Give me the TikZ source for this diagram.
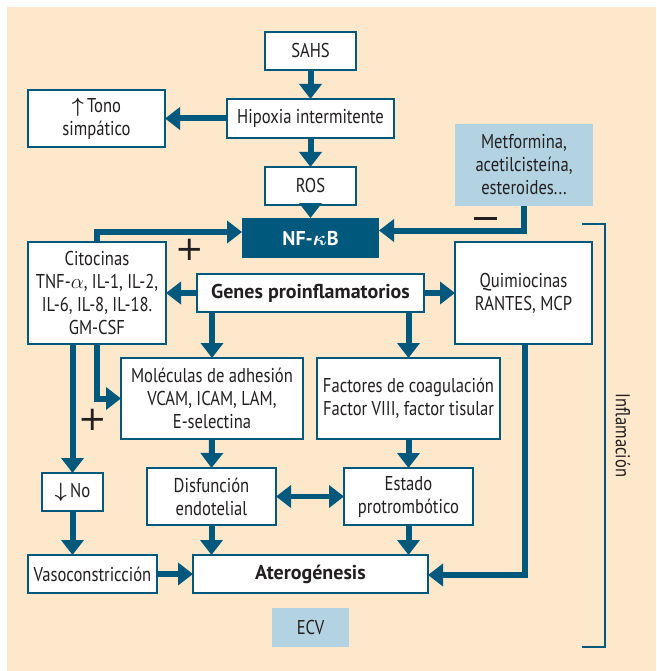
\documentclass[tikz,border=0pt]{standalone}
\usepackage{amsmath}
\usepackage{fontspec}
\setmainfont{PT Sans}[FakeStretch=0.83]
\newfontfamily\widebold{PT Sans}[FakeStretch=1.0]
\newfontfamily\symf{DejaVu Sans}
\usetikzlibrary{arrows.meta,calc}
\definecolor{teal}{HTML}{00587C}
\definecolor{beige}{HTML}{FDE8CC}
\definecolor{lblue}{HTML}{B3D3E3}
\definecolor{ink}{HTML}{231F20}
\begin{document}
\begin{tikzpicture}[x=1pt,y=-1pt,
  every node/.style={font=\fontsize{20}{23}\selectfont, text=ink},
  box/.style={draw=teal, line width=2pt, fill=white, align=center, inner sep=0pt, outer sep=0pt},
  boldtext/.style={font=\fontsize{20}{23}\selectfont\widebold\bfseries},
  bluebox/.style={fill=lblue, align=center, inner sep=0pt, outer sep=0pt},
  darkbox/.style={fill=teal, align=center, inner sep=0pt, outer sep=0pt, text=white, boldtext},
  arr/.style={draw=teal, line width=6pt, -{Triangle[length=15pt,width=22pt]}},
  darr/.style={draw=teal, line width=5pt, {Triangle[length=15pt,width=22pt]}-{Triangle[length=15pt,width=22pt]}},
  sign/.style={font=\fontsize{34}{34}\selectfont\symf, text=ink, inner sep=0pt},
  brk/.style={draw=teal, line width=2pt}]
\useasboundingbox (0,0) rectangle (656,671);
\fill[beige] (7,7) rectangle (656,671);

\node[box, minimum width=91, minimum height=38] (sahs) at (310.5,51) {SAHS};
\node[box, minimum width=167, minimum height=39] (hip) at (310.5,118.5) {Hipoxia intermitente};
\node[box, minimum width=137, minimum height=57] (tono) at (96.5,118.5) {$\boldsymbol{\uparrow}$\,Tono\\simpático};
\node[box, minimum width=91, minimum height=38] (ros) at (310.5,186) {ROS};
\node[bluebox, minimum width=138, minimum height=82] (met) at (524,165) {Metformina,\\acetilcisteína,\\esteroides...};
\node[darkbox, minimum width=137, minimum height=40] (nf) at (310.5,238) {NF-$\boldsymbol{\kappa}$B};
\node[box, minimum width=138, minimum height=102] (cit) at (97,293) {Citocinas\\TNF-$\alpha$, IL-1, IL-2,\\IL-6, IL-8, IL-18.\\GM-CSF};
\node[box, boldtext, minimum width=227, minimum height=38] (gen) at (310.5,293) {Genes proinflamatorios};
\node[box, minimum width=137, minimum height=102] (quim) at (523.5,293) {Quimiocinas\\RANTES, MCP};
\node[box, minimum width=182, minimum height=81] (mol) at (212,398.5) {Moléculas de adhesión\\VCAM, ICAM, LAM,\\E-selectina};
\node[box, minimum width=183, minimum height=81] (fac) at (408.5,398.5) {Factores de coagulación\\Factor VIII, factor tisular};
\node[box, minimum width=61, minimum height=38] (no) at (72.5,492) {$\boldsymbol{\downarrow}$\,No};
\node[box, minimum width=129, minimum height=57] (dis) at (211.5,496.5) {Disfunción\\endotelial};
\node[box, minimum width=129, minimum height=57] (est) at (408.5,496.5) {Estado\\protrombótico};
\node[box, minimum width=129, minimum height=38] (vaso) at (92.5,574) {Vasoconstricción};
\node[box, boldtext, minimum width=235, minimum height=38] (ater) at (310.5,574) {Aterogénesis};
\node[bluebox, minimum width=77, minimum height=39] (ecv) at (310.5,627.5) {ECV};

\node[sign] (p1) at (190,250) {+};
\node[sign] (p2) at (93,420) {+};
\node[inner sep=0pt] (m1) at (485,218) {\color{ink}\rule{23pt}{3pt}};

\draw[arr] (sahs) -- (hip);
\draw[arr] (hip) -- (ros);
\draw[arr] (hip) -- (tono);
\draw[arr] (ros) -- (nf);
\draw[arr] (met.south) |- ([yshift=7.5pt]nf.east);
\draw[arr] (cit.north) |- ([yshift=6pt]nf.west);
\draw[arr] (gen.west) -- (cit.east);
\draw[arr] (gen.east) -- (quim.west);
\draw[arr] (mol.north |- gen.south) -- (mol.north);
\draw[arr] (fac.north |- gen.south) -- (fac.north);
\draw[arr] (cit.south) |- (mol.west);
\draw[arr] (no.north |- cit.south) -- (no.north);
\draw[arr] (no.south) -- (no.south |- vaso.north);
\draw[arr] (mol.south) -- (dis.north);
\draw[arr] (fac.south) -- (est.north);
\draw[darr] (dis.east) -- (est.west);
\draw[arr] (dis.south) -- (dis.south |- ater.north);
\draw[arr] (est.south) -- (est.south |- ater.north);
\draw[arr] (vaso.east) -- (ater.west);
\draw[arr] ([xshift=1pt]quim.south) |- ([yshift=-1pt]ater.east);

\coordinate (bt) at (582,224);
\coordinate (bb) at (582,647);
\draw[brk] (bt) -- (605,224) -- (605,647) -- (bb);
\node[rotate=-90] (infl) at (623,435.5) {Inflamación};
\end{tikzpicture}
\end{document}
